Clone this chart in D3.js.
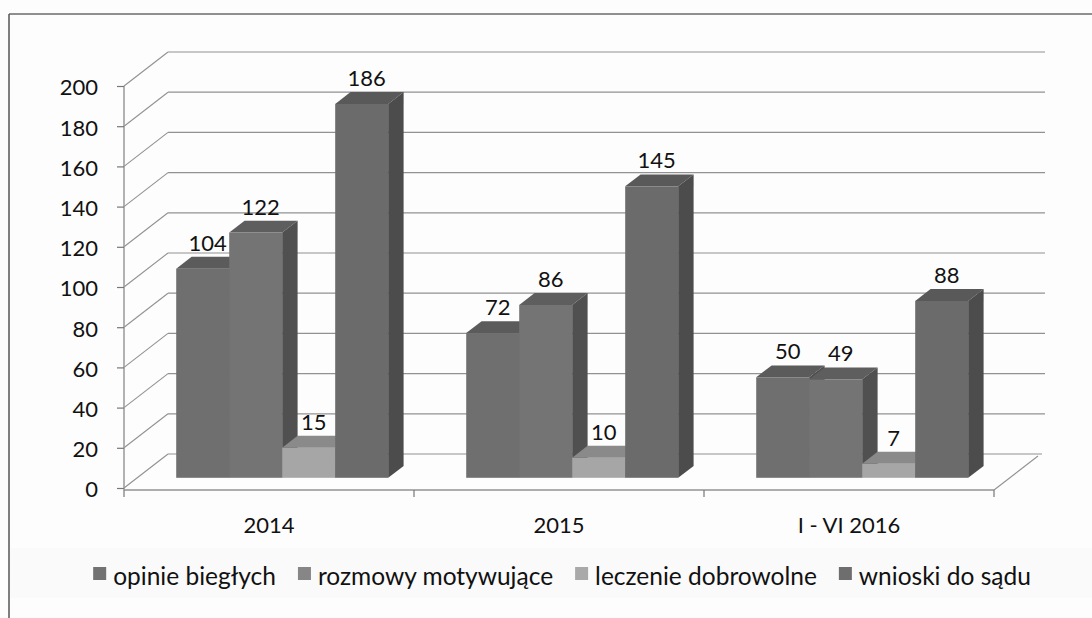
<!DOCTYPE html>
<html lang="pl">
<head>
<meta charset="UTF-8">
<title>Wykres</title>
<script src="https://cdn.jsdelivr.net/npm/d3@7"></script>
<style>
body{margin:0;background:#fff;}
svg{display:block;}
text{font-family:Lato,"Open Sans",sans-serif;fill:#111;}
</style>
</head>
<body>
<script>
// data
var categories=["2014","2015","I - VI 2016"];
var series=["opinie biegłych","rozmowy motywujące","leczenie dobrowolne","wnioski do sądu"];
var opinie=[104,72,50];
var rozmowy=[122,86,49];
var leczenie=[15,10,7];
var wnioski=[186,145,88];
var yTicks=[0,20,40,60,80,100,120,140,160,180,200];

var values=[opinie,rozmowy,leczenie,wnioski];
var fronts=["#6f6f6f","#747474","#a6a6a6","#6b6b6b"];
var tops=["#5b5b5b","#5e5e5e","#8a8a8a","#595959"];
var sides=["#4e4e4e","#505050","#7a7a7a","#4c4c4c"];
var legendCols=["#727272","#868686","#a9a9a9","#6e6e6e"];

var W=1092,H=618;
var svg=d3.select("body").append("svg").attr("width",W).attr("height",H);
svg.append("rect").attr("width",W).attr("height",H).attr("fill","#fdfdfd");
svg.append("rect").attr("x",10).attr("y",548).attr("width",W-10).attr("height",50).attr("fill","#fafafa");

// frame
svg.append("line").attr("x1",9).attr("x2",W).attr("y1",14).attr("y2",14).attr("stroke","#6a6a6a").attr("stroke-width",1.5);
svg.append("line").attr("x1",9).attr("x2",9).attr("y1",14).attr("y2",H).attr("stroke","#555").attr("stroke-width",1.5);

// scales
var y=d3.scaleLinear().domain([0,200]).range([488,86]);
var x0=d3.scaleBand().domain(categories).range([124,994]);
var x1=d3.scaleBand().domain(series).range([0,x0.bandwidth()]).paddingOuter(0.736);

// depth of the 3d box
var DX=44,DY=-34;
var dFront=0.3,dBack=0.65;

var g=svg.append("g");
var grid="#929292";

// back wall and left wall gridlines
yTicks.forEach(function(t){
  if(t>0){
    g.append("line").attr("x1",124+DX).attr("y1",y(t)+DY).attr("x2",1045).attr("y2",y(t)+DY)
      .attr("stroke",grid).attr("stroke-width",1.2);
  }
  g.append("line").attr("x1",124).attr("y1",y(t)).attr("x2",124+DX).attr("y2",y(t)+DY)
    .attr("stroke",grid).attr("stroke-width",1.1);
});
// floor
g.append("line").attr("x1",124+DX).attr("y1",y(0)+DY).attr("x2",1042).attr("y2",y(0)+DY).attr("stroke",grid).attr("stroke-width",1.2);
g.append("line").attr("x1",124).attr("y1",y(0)+2).attr("x2",994).attr("y2",y(0)+2).attr("stroke",grid).attr("stroke-width",1.5);
g.append("line").attr("x1",994).attr("y1",y(0)+2).attr("x2",994+DX).attr("y2",y(0)+2+DY).attr("stroke",grid).attr("stroke-width",1.1);
// x ticks
x0.domain().concat(["end"]).forEach(function(c,i){
  var xx=124+i*x0.bandwidth();
  g.append("line").attr("x1",xx).attr("x2",xx).attr("y1",y(0)+2).attr("y2",y(0)+9).attr("stroke","#777").attr("stroke-width",1.2);
});

// y axis
g.append("line").attr("x1",124).attr("x2",124).attr("y1",y(200)).attr("y2",y(0)+2).attr("stroke","#999").attr("stroke-width",1.5);
var yAxis=d3.axisLeft(y).tickValues(yTicks).tickSize(7).tickPadding(19);
var ya=svg.append("g").attr("transform","translate(124,0)").call(yAxis);
ya.select(".domain").remove();
ya.selectAll(".tick line").attr("stroke","#777").attr("stroke-width",1.2);
ya.selectAll(".tick text").attr("font-size",22).attr("font-family","Lato").attr("fill","#111").attr("dy","0.4em");

// bars
var bars=svg.append("g");
categories.forEach(function(c,ci){
  series.forEach(function(s,si){
    var v=values[si][ci];
    var fx=x0(c)+x1(s)+DX*dFront;
    var fy=DY*dFront;
    var w=x1.bandwidth();
    var top=y(v)+fy, bot=y(0)+fy;
    var bdx=DX*(dBack-dFront), bdy=DY*(dBack-dFront);
    bars.append("rect").attr("x",fx).attr("y",top).attr("width",w).attr("height",bot-top).attr("fill",fronts[si]);
    bars.append("path").attr("d","M"+fx+","+top+"L"+(fx+bdx)+","+(top+bdy)+"L"+(fx+w+bdx)+","+(top+bdy)+"L"+(fx+w)+","+top+"Z").attr("fill",tops[si]);
    bars.append("path").attr("d","M"+(fx+w)+","+top+"L"+(fx+w+bdx)+","+(top+bdy)+"L"+(fx+w+bdx)+","+(bot+bdy)+"L"+(fx+w)+","+bot+"Z").attr("fill",sides[si]);
    bars.append("text").attr("x",fx+w/2+5).attr("y",top-18).attr("text-anchor","middle").attr("font-size",22).text(v);
  });
});

// category labels
svg.selectAll(".cat").data(categories).enter().append("text")
  .attr("x",function(d){return x0(d)+x0.bandwidth()/2;}).attr("y",533)
  .attr("text-anchor","middle").attr("font-size",22).text(function(d){return d;});

// legend
var lg=svg.append("g");
var items=lg.selectAll("g").data(series).enter().append("g");
items.append("rect").attr("width",13).attr("height",13).attr("y",-11).attr("fill",function(d,i){return legendCols[i];});
items.append("text").attr("x",20).attr("y",0).attr("dy","0.3em").attr("font-size",24.5).text(function(d){return d;});
var pos=0,gap=22;
items.each(function(d){
  var tw=d3.select(this).select("text").node().getComputedTextLength();
  d3.select(this).attr("transform","translate("+pos+",0)");
  pos+=20+tw+gap;
});
var total=pos-gap;
lg.attr("transform","translate("+(562-total/2)+",578)");
</script>
</body>
</html>
